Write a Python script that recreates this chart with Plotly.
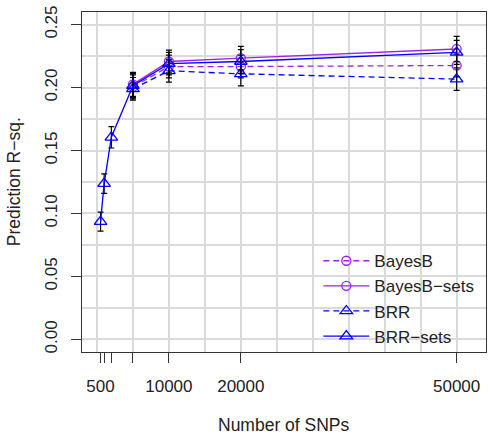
import plotly.graph_objects as go

# ---- data ----
x_sets = [500, 1000, 2000, 5000, 10000, 20000, 50000]
x_full = [5000, 10000, 20000, 50000]

bayesb = [0.2005, 0.2167, 0.2167, 0.2175]
bayesb_se = [0.0095, 0.0090, 0.0090, 0.0090]
bayesb_sets = [0.2025, 0.2207, 0.2234, 0.2306]
bayesb_sets_se = [0.0095, 0.0090, 0.0093, 0.0100]
brr = [0.1990, 0.2133, 0.2109, 0.2067]
brr_se = [0.0090, 0.0090, 0.0096, 0.0090]
brr_sets = [0.0935, 0.1237, 0.1605, 0.2015, 0.2190, 0.2207, 0.2279]
brr_sets_se = [0.0075, 0.0078, 0.0085, 0.0095, 0.0090, 0.0095, 0.0095]

x_tickvals = [500, 1000, 2000, 5000, 10000, 20000, 50000]
x_ticktext = ["500", "", "", "", "10000", "20000", "50000"]
x_grid = [0, 5000, 10000, 15000, 20000, 25000, 30000, 35000, 40000, 45000, 50000]
y_tickvals = [0.00, 0.05, 0.10, 0.15, 0.20, 0.25]

PURPLE = "#A020F0"
BLUE = "#0000FF"
FONT = "Liberation Sans, Arial, sans-serif"

def trace(x, y, se, name, color, dash, symbol, size):
    return go.Scatter(
        x=x, y=y, name=name, mode="lines+markers",
        line=dict(color=color, width=1.3, dash=dash),
        marker=dict(symbol=symbol, size=size, color=color,
                    line=dict(color=color, width=1.3)),
        error_y=dict(type="data", array=se, visible=True, color="black",
                     thickness=1.2, width=3),
    )

fig = go.Figure()
fig.add_trace(trace(x_full, bayesb, bayesb_se, "BayesB", PURPLE, "6px,4px", "circle-open", 9))
fig.add_trace(trace(x_sets[3:], bayesb_sets, bayesb_sets_se, "BayesB\u2212sets", PURPLE, "solid", "circle-open", 9))
fig.add_trace(trace(x_full, brr, brr_se, "BRR", BLUE, "6px,4px", "triangle-up-open", 11))
fig.add_trace(trace(x_sets, brr_sets, brr_sets_se, "BRR\u2212sets", BLUE, "solid", "triangle-up-open", 11))

fig.update_layout(
    width=490, height=434,
    margin=dict(l=82, r=4, t=12, b=82, autoexpand=False),
    paper_bgcolor="white", plot_bgcolor="white",
    font=dict(family=FONT, size=17, color="#222222"),
    showlegend=True,
    legend=dict(x=0.585, y=0.32, xanchor="left", yanchor="top",
                bgcolor="rgba(0,0,0,0)", borderwidth=0,
                font=dict(size=17), itemwidth=46, tracegroupgap=0),
    xaxis=dict(
        range=[-2080, 54080], automargin=False,
        tickmode="array", tickvals=x_tickvals, ticktext=x_ticktext,
        ticks="outside", ticklen=10, tickwidth=1.2, tickcolor="#333333",
        showgrid=False, zeroline=False,
        showline=True, linecolor="#333333", linewidth=1.2, mirror=True,
        minor=dict(tickvals=x_grid, showgrid=True, gridcolor="#DADADA",
                   gridwidth=1.5, ticks=""),
        ticklabelstandoff=8,
    ),
    yaxis=dict(
        range=[-0.01, 0.26], automargin=False,
        tickmode="array", tickvals=y_tickvals, tickformat=".2f",
        tickangle=-90,
        ticks="outside", ticklen=10, tickwidth=1.2, tickcolor="#333333",
        showgrid=True, gridcolor="#DADADA", gridwidth=1.5, zeroline=False,
        showline=True, linecolor="#333333", linewidth=1.2, mirror=True,
        minor=dict(dtick=0.025, tick0=0, showgrid=True, gridcolor="#DADADA",
                   gridwidth=1.5, ticks=""),
        ticklabelstandoff=7,
    ),
    annotations=[
        dict(text="Number of SNPs", xref="paper", yref="paper",
             x=0.5, y=-0.2135, xanchor="center", yanchor="middle",
             showarrow=False, font=dict(size=17.5)),
        dict(text="Prediction R\u2212sq.", xref="paper", yref="paper",
             x=-0.168, y=0.5, xanchor="center", yanchor="middle",
             textangle=-90, showarrow=False, font=dict(size=17.5)),
    ],
)

fig.write_html("out.html")
